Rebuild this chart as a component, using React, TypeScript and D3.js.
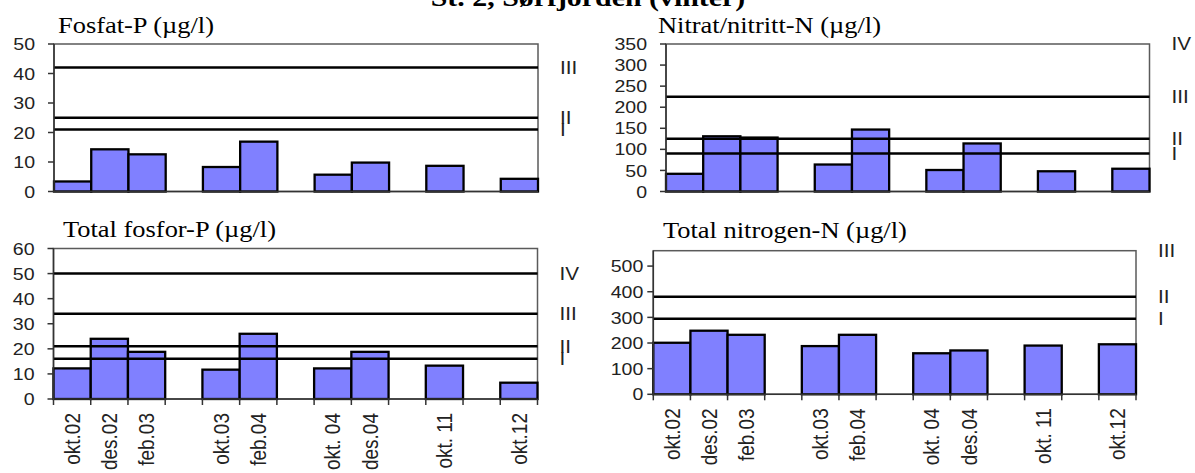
import React from "react";
import * as d3 from "d3";

// ---------- data ----------
const categories = ["okt.02", "des.02", "feb.03", "", "okt.03", "feb.04", "", "okt. 04", "des.04", "", "okt. 11", "", "okt.12"];

const fosfatValues = [3.4, 14.3, 12.6, null, 8.3, 16.9, null, 5.7, 9.8, null, 8.7, null, 4.3];
const nitratValues = [42, 131, 128, null, 64, 147, null, 51, 114, null, 48, null, 54];
const totPValues = [12.2, 24, 18.8, null, 11.7, 26, null, 12.2, 18.8, null, 13.3, null, 6.5];
const totNValues = [201, 248, 232, null, 188, 232, null, 160, 171, null, 190, null, 195];

const fosfatClassValues = [21, 25, 42];
const fosfatClassLabels = ["I", "II", "III"];
const nitratClassValues = [90, 125, 225, 350];
const nitratClassLabels = ["I", "II", "III", "IV"];
const totPClassValues = [16, 21, 34, 50];
const totPClassLabels = ["I", "II", "III", "IV"];
const totNClassValues = [295, 380, 560];
const totNClassLabels = ["I", "II", "III"];

const fosfatTicks = [0, 10, 20, 30, 40, 50];
const nitratTicks = [0, 50, 100, 150, 200, 250, 300, 350];
const totPTicks = [0, 10, 20, 30, 40, 50, 60];
const totNTicks = [0, 100, 200, 300, 400, 500];

const mainTitle = "St. 2, Sørfjorden (vinter)";

// ---------- style ----------
const SX = 1.15;
const SANS = "'Liberation Sans', Arial, sans-serif";
const SERIF = "'Liberation Serif', 'Times New Roman', serif";
const BAR_FILL = "#8080FF";

type Panel = {
  title: string;
  values: (number | null)[];
  max: number;
  ticks: number[];
  classValues: number[];
  classLabels: string[];
  left: number;
  right: number;
  top: number;
  bottom: number;
  titleX: number;
  titleY: number;
  labelGap: number;
  showX: boolean;
};

const panels: Panel[] = [
  {
    title: "Fosfat-P (µg/l)", values: fosfatValues, max: 50, ticks: fosfatTicks,
    classValues: fosfatClassValues, classLabels: fosfatClassLabels,
    left: 54, right: 538, top: 44, bottom: 191.5, titleX: 58, titleY: 33, labelGap: 19, showX: false,
  },
  {
    title: "Nitrat/nitritt-N (µg/l)", values: nitratValues, max: 350, ticks: nitratTicks,
    classValues: nitratClassValues, classLabels: nitratClassLabels,
    left: 666, right: 1149.5, top: 44, bottom: 191.5, titleX: 658, titleY: 33, labelGap: 19, showX: false,
  },
  {
    title: "Total fosfor-P (µg/l)", values: totPValues, max: 60, ticks: totPTicks,
    classValues: totPClassValues, classLabels: totPClassLabels,
    left: 53.5, right: 537.5, top: 248.5, bottom: 399, titleX: 63, titleY: 237, labelGap: 19, showX: true,
  },
  {
    title: "Total nitrogen-N (µg/l)", values: totNValues, max: 560, ticks: totNTicks,
    classValues: totNClassValues, classLabels: totNClassLabels,
    left: 653.3, right: 1136, top: 250.7, bottom: 394.3, titleX: 663, titleY: 238, labelGap: 10, showX: true,
  },
];

function SText(props: {
  x: number; y: number; anchor?: string; rotate?: boolean; size: number; family: string;
  weight?: string | number; fill?: string; dy?: string; children: React.ReactNode;
}) {
  const { x, y, anchor = "start", rotate = false, size, family, weight = "normal", fill = "#000", dy, children } = props;
  return (
    <text
      transform={`translate(${x},${y}) scale(${SX},1)${rotate ? " rotate(-90)" : ""}`}
      textAnchor={anchor}
      fontSize={size}
      fontFamily={family}
      fontWeight={weight}
      fill={fill}
      dy={dy}
    >
      {children}
    </text>
  );
}

function PanelChart({ p }: { p: Panel }) {
  const x = d3.scaleBand<number>().domain(d3.range(categories.length)).range([p.left, p.right]).paddingInner(0).paddingOuter(0);
  const y = d3.scaleLinear().domain([0, p.max]).range([p.bottom, p.top]);
  const bw = x.bandwidth();
  const boundaries = d3.range(categories.length + 1).map((i) => p.left + i * x.step());

  return (
    <g>
      <SText x={p.titleX} y={p.titleY} size={23} family={SERIF}>{p.title}</SText>

      {/* plot area frame */}
      <rect x={p.left} y={p.top} width={p.right - p.left} height={p.bottom - p.top} fill="#fff" stroke="#5a5a5a" strokeWidth={1.5} />

      {/* bars */}
      {p.values.map((v, i) =>
        v == null ? null : (
          <rect key={i} x={x(i)!} y={y(v)} width={bw} height={y(0) - y(v)} fill={BAR_FILL} stroke="#000" strokeWidth={2.3} />
        )
      )}

      {/* class boundary lines */}
      {p.classValues.map((v, i) =>
        v < p.max ? (
          <line key={i} x1={p.left} x2={p.right} y1={y(v)} y2={y(v)} stroke="#000" strokeWidth={2.5} />
        ) : null
      )}

      {/* axes */}
      <line x1={p.left} x2={p.left} y1={p.top} y2={p.bottom} stroke="#333" strokeWidth={1.5} />
      <line x1={p.left} x2={p.right} y1={p.bottom} y2={p.bottom} stroke="#333" strokeWidth={1.5} />

      {/* y ticks */}
      {p.ticks.map((t) => (
        <g key={t}>
          <line x1={p.left - 6} x2={p.left} y1={y(t)} y2={y(t)} stroke="#333" strokeWidth={1.5} />
          <SText x={p.left - p.labelGap} y={y(t)} anchor="end" size={17} family={SANS} fill="#222" dy="0.36em">
            {t}
          </SText>
        </g>
      ))}

      {/* class labels */}
      {p.classValues.map((v, i) => (
        <SText key={i} x={p.right + 22} y={y(Math.min(v, p.max))} size={18} family={SANS} fill="#222" dy="0.36em">
          {p.classLabels[i]}
        </SText>
      ))}

      {/* x ticks and labels */}
      {p.showX &&
        boundaries.map((bx, i) => (
          <line key={"t" + i} x1={bx} x2={bx} y1={p.bottom} y2={p.bottom + 6} stroke="#333" strokeWidth={1.5} />
        ))}
      {p.showX &&
        categories.map((c, i) =>
          c ? (
            <SText key={"l" + i} x={x(i)! + bw / 2} y={p.bottom + 14} anchor="end" rotate size={19} family={SANS} fill="#222" dy="0.35em">
              {c}
            </SText>
          ) : null
        )}
    </g>
  );
}

export default function App() {
  return (
    <svg width={1195} height={473} style={{ position: "absolute", left: 0, top: 0, background: "#fff" }}>
      <rect x={0} y={0} width={1195} height={473} fill="#fff" />
      <SText x={588} y={6} anchor="middle" size={26} family={SERIF} weight="bold">{mainTitle}</SText>
      {panels.map((p, i) => (
        <PanelChart key={i} p={p} />
      ))}
    </svg>
  );
}
